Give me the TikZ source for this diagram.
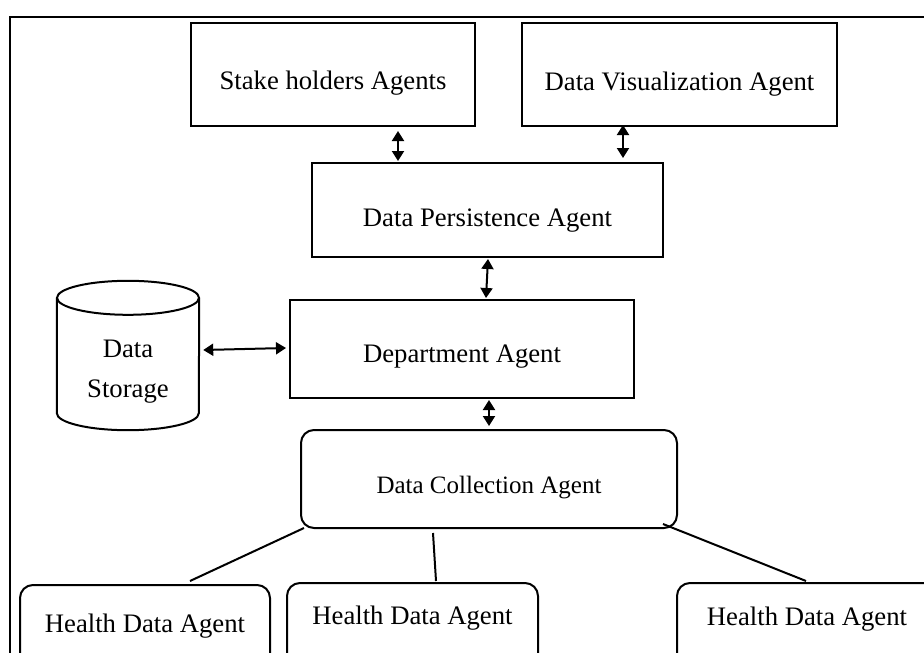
\documentclass[tikz,border=0pt]{standalone}
\usepackage{fontspec}
\setmainfont{Liberation Serif}
\usetikzlibrary{arrows.meta}
\begin{document}
\begin{tikzpicture}[x=1pt,y=-1pt,
  ln/.style={line width=2pt},
  box/.style={draw, line width=2pt, inner sep=0pt, font=\fontsize{26.7}{32}\selectfont},
  rbox/.style={box, rounded corners=13pt},
  conn/.style={line width=2pt, {Triangle[length=10pt,width=12pt]}-{Triangle[length=10pt,width=12pt]}},
  txt/.style={font=\fontsize{26.7}{32}\selectfont, inner sep=0pt, anchor=base},
]
\useasboundingbox (0,0) rectangle (924,653);
\clip (0,0) rectangle (924,653);
\fill[white] (0,0) rectangle (924,653);
% outer frame
\draw[ln] (940,17) -- (10,17) -- (10,670);

% boxes
\node[box, minimum width=284pt, minimum height=103pt, text height=29pt, text depth=0pt] (sh) at (333,74.5) {Stake holders Agents};
\node[box, minimum width=315pt, minimum height=103pt, text height=31pt, text depth=0pt] (dv) at (679.5,74.5) {Data Visualization Agent};
\node[box, minimum width=351pt, minimum height=94pt, text height=32pt, text depth=0pt] (dp) at (487.5,210) {Data Persistence Agent};
\node[box, minimum width=344pt, minimum height=98pt, text height=26pt, text depth=0pt] (da) at (462,349) {Department Agent};
\node[rbox, minimum width=376pt, minimum height=98pt, text height=28pt, text depth=0pt, font=\fontsize{25}{30}\selectfont] (dc) at (489,479) {Data Collection Agent};
\node[rbox, minimum width=250pt, minimum height=84pt, text height=10pt, text depth=0pt] (hda1) at (145,627) {Health Data Agent};
\node[rbox, minimum width=251pt, minimum height=88pt, text height=0pt, text depth=6pt] (hda2) at (412.5,627) {Health Data Agent};
\node[rbox, minimum width=260pt, minimum height=88pt, text height=0pt, text depth=4pt] (hda3) at (807,627) {Health Data Agent};

% data storage cylinder
\node[minimum width=142pt, minimum height=149pt, inner sep=0pt] (storage) at (128,355.5) {};
\draw[ln] ([yshift=-17pt]storage.north west) -- ([yshift=17pt]storage.south west)
  arc[start angle=180, end angle=360, x radius=71pt, y radius=17pt]
  -- ([yshift=-17pt]storage.north east);
\draw[ln] ([yshift=-17pt]storage.north) ellipse [x radius=71pt, y radius=17pt];
\node[txt] (st1) at (128,357) {Data};
\node[txt] (st2) at (128,397) {Storage};

% connectors with arrows
\draw[conn] ([xshift=65pt,yshift=-4pt]sh.south) -- ([xshift=-89.5pt,yshift=1pt]dp.north);
\draw[conn] ([xshift=-56.5pt,yshift=2pt]dv.south) -- ([xshift=135.5pt,yshift=4pt]dp.north);
\draw[conn] ([xshift=0.5pt,yshift=-1pt]dp.south) -- ([xshift=24pt,yshift=1pt]da.north);
\draw[conn] ([xshift=27pt,yshift=-1pt]da.south) -- ([yshift=3pt]dc.north);
\draw[conn] ([xshift=4pt,yshift=5.5pt]storage.east) -- ([xshift=-3pt,yshift=1pt]da.west);

% plain lines
\draw[ln] ([xshift=4pt,yshift=1pt]dc.south west) -- ([xshift=45pt,yshift=3pt]hda1.north);
\draw[ln] ([xshift=-56pt,yshift=-4pt]dc.south) -- ([xshift=23.5pt,yshift=1pt]hda2.north);
\draw[ln] ([xshift=-15pt,yshift=5pt]dc.south east) -- ([xshift=-1pt,yshift=1pt]hda3.north);
\end{tikzpicture}
\end{document}
